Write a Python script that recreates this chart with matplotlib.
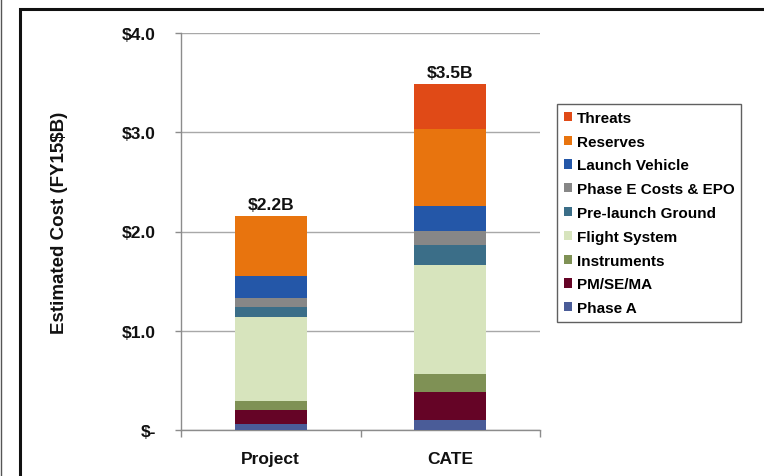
import matplotlib
matplotlib.use("Agg")
import matplotlib.pyplot as plt
from matplotlib.patches import Rectangle
from matplotlib.lines import Line2D
import numpy as np

plt.rcParams['font.family'] = ['Liberation Sans', 'DejaVu Sans']

categories = ["Project", "CATE"]
components = ["Phase A", "PM/SE/MA", "Instruments", "Flight System",
              "Pre-launch Ground", "Phase E Costs & EPO", "Launch Vehicle",
              "Reserves", "Threats"]
phase_a = [0.06, 0.10]
pm_se_ma = [0.138, 0.285]
instruments = [0.097, 0.178]
flight_system = [0.841, 1.102]
prelaunch_ground = [0.10, 0.20]
phase_e = [0.091, 0.14]
launch_vehicle = [0.228, 0.25]
reserves = [0.605, 0.773]
threats = [0.0, 0.463]
totals_labels = ["$2.2B", "$3.5B"]
ytick_vals = [0, 1, 2, 3, 4]
ytick_labels = ["$-", "$1.0", "$2.0", "$3.0", "$4.0"]

series = [phase_a, pm_se_ma, instruments, flight_system, prelaunch_ground,
          phase_e, launch_vehicle, reserves, threats]
colors = ["#4A5C98", "#650426", "#7F9155", "#D7E4BD", "#3B6E88",
          "#878787", "#2457A8", "#E8740E", "#E04A17"]

fig = plt.figure(figsize=(7.64, 4.77), dpi=100)
ax = fig.add_axes([181/764, 1-431/477, (540-181)/764, (431-34)/477])

x = np.arange(len(categories))
bottom = np.zeros(len(categories))
handles = []
for vals, col, name in zip(series, colors, components):
    b = ax.bar(x, vals, width=0.4, bottom=bottom, color=col, label=name,
               edgecolor='none', zorder=3)
    handles.append(b)
    bottom = bottom + np.array(vals)

for xi, tot, lab in zip(x, bottom, totals_labels):
    ax.text(xi, tot + 0.035, lab, ha='center', va='bottom', fontsize=12.5,
            fontweight='bold', color='#111111')

ax.set_xlim(-0.5, 1.5)
ax.set_ylim(0, 4.0)
ax.set_yticks(ytick_vals)
ax.set_yticklabels(ytick_labels, fontsize=12.5, fontweight='bold', color='#111111')
ax.yaxis.grid(True, color='#A8A8A8', linewidth=1.0, zorder=0)
ax.set_axisbelow(True)
ax.set_xticks(x)
ax.set_xticklabels(categories, fontsize=12.5, fontweight='bold', color='#111111')
ax.set_xticks([-0.5, 0.5, 1.5], minor=True)
ax.tick_params(axis='x', which='major', length=0, pad=15)
ax.tick_params(axis='x', which='minor', length=5, color='#8C8C8C', width=1)
ax.tick_params(axis='y', length=4, color='#8C8C8C', width=1, pad=14)
for s in ['top', 'right']:
    ax.spines[s].set_visible(False)
for s in ['left', 'bottom']:
    ax.spines[s].set_color('#8C8C8C')
    ax.spines[s].set_linewidth(1.0)
ax.set_ylabel("Estimated Cost (FY15$B)", fontsize=13.5, fontweight='bold',
              color='#111111')
ax.yaxis.set_label_coords(-0.315, 0.523)

leg = fig.legend(handles[::-1], components[::-1], loc='upper left',
                 bbox_to_anchor=(557/764, 1-105/477), borderaxespad=0,
                 fancybox=False, edgecolor='#606060', framealpha=1,
                 prop={'weight': 'bold', 'size': 11},
                 handlelength=0.55, handleheight=0.55, handletextpad=0.3,
                 labelspacing=0.64, borderpad=0.45)
leg.get_frame().set_linewidth(1.0)

# outer black frame
fig.add_artist(Rectangle((20/764, -0.05), 1.0, 1-10/477 + 0.05,
                         transform=fig.transFigure, fill=False,
                         edgecolor='#111111', linewidth=2.2))
fig.add_artist(Line2D([1/764, 1/764], [0, 1], transform=fig.transFigure,
                      color='#555555', linewidth=1.0))

fig.savefig("out.png", dpi=100)
